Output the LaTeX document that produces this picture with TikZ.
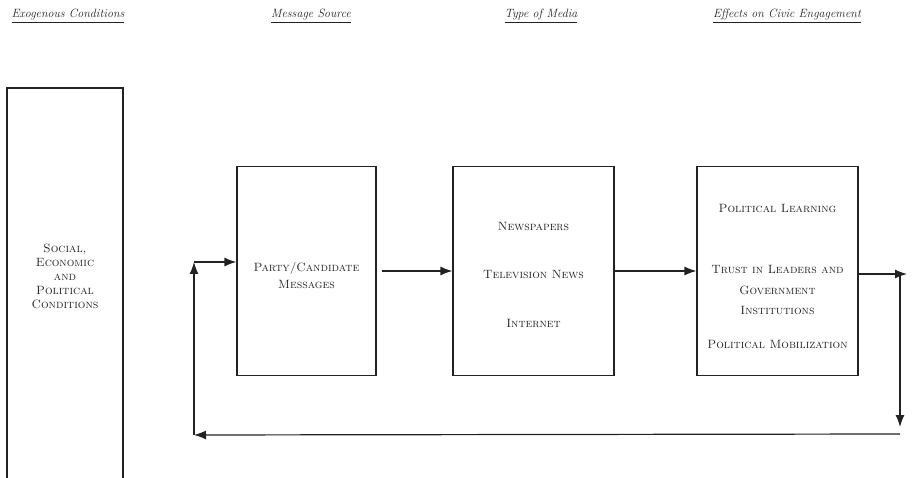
\documentclass[tikz,border=0pt]{standalone}
\usepackage{xcolor}
\usepackage{tikz}
\usetikzlibrary{arrows.meta}
\definecolor{ink}{HTML}{222222}
\tikzset{box/.style={draw=ink,line width=1.2pt,inner sep=0pt},
  lbl/.style={ink,align=center,font=\fontsize{12}{20.5}\selectfont\scshape},
  hdr/.style={ink,font=\fontsize{12}{14}\selectfont\itshape},
  flow/.style={draw=ink,line width=1.2pt,-{Latex[length=12pt,width=9pt]}}}

\begin{document}
\begin{tikzpicture}[x=1pt,y=-1pt]
\useasboundingbox (0,0) rectangle (916,478);
\node[hdr] at (68,16) {\underline{Exogenous Conditions}}; \node[hdr] at (311,16) {\underline{Message Source}};
\node[hdr] at (541,16) {\underline{Type of Media}}; \node[hdr] at (787,16) {\underline{Effects on Civic Engagement}};
\node[box,minimum width=116pt,minimum height=392pt] (cond) at (65,284) {};
\node[box,minimum width=139pt,minimum height=209pt] (msg) at (306.5,271) {};
\node[box,minimum width=161pt,minimum height=209pt] (media) at (533.5,271) {};
\node[box,minimum width=161pt,minimum height=209pt] (effects) at (777.5,271) {};
\node[lbl,font=\fontsize{12}{14}\selectfont\scshape] at (65,276) {Social,\\Economic\\and\\Political\\Conditions};
\node[lbl,font=\fontsize{12}{17}\selectfont\scshape] at (306.5,276) {Party/Candidate\\Messages};
\node[lbl] at (533.5,226) {Newspapers}; \node[lbl] at (533.5,274) {Television News}; \node[lbl] at (533.5,323) {Internet};
\node[lbl] at (777.5,208) {Political Learning}; \node[lbl] at (777.5,290) {Trust in Leaders and\\Government\\Institutions};
\node[lbl] at (777.5,344) {Political Mobilization};
\coordinate (out) at (907,274); \coordinate (rt) at (900,274); \coordinate (rb) at (900,427);
\coordinate (br) at (900,434); \coordinate (lb) at (194,435); \coordinate (lt) at (194,262);
\draw[flow] ([xshift=5pt]msg.east) -- (media.west);
\draw[flow] (media.east) -- (effects.west);
\draw[flow] (effects.east |- rt) -- (out);
\draw[flow] (rt) -- (rb);
\draw[flow] (br) -- (lb);
\draw[flow] (lb) -- (lt);
\draw[flow] (lt) -- (msg.west |- lt);
\end{tikzpicture}
\end{document}
